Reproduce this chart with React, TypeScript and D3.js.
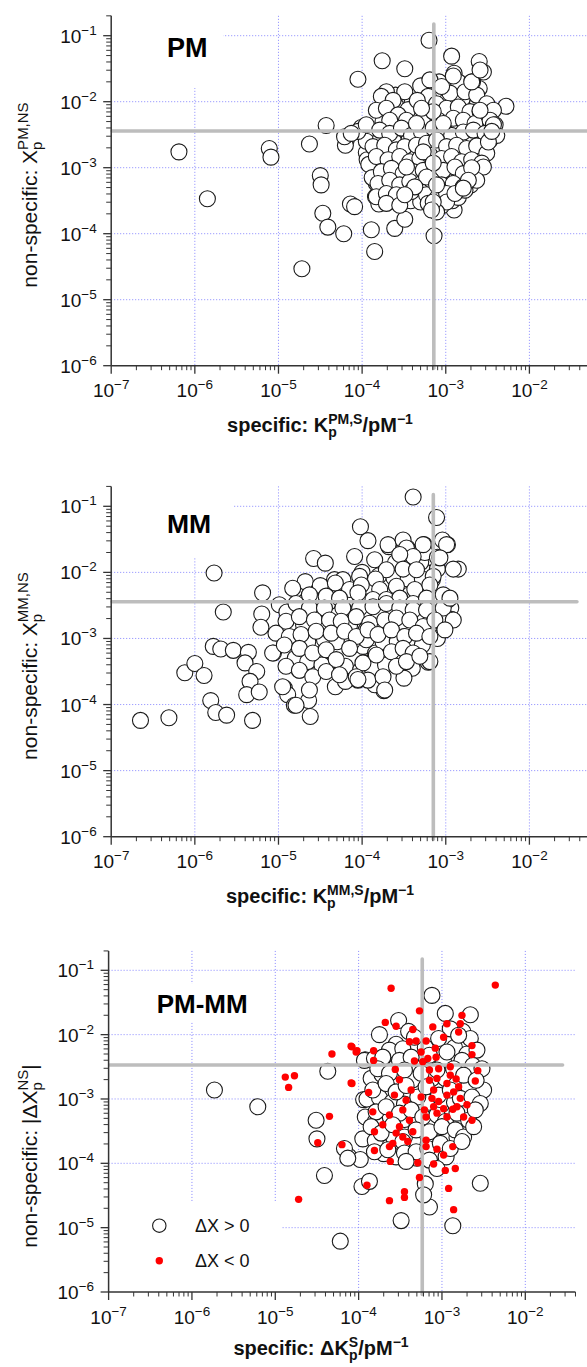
import React from "react";
import * as d3 from "d3";

const FONT = "'Liberation Sans', Arial, Helvetica, sans-serif";

// decades that carry labels and grid lines
const xDecades = [-7, -6, -5, -4, -3, -2];
const yDecades = [-6, -5, -4, -3, -2, -1];
const minorMantissas = [2, 3, 4, 5, 6, 7, 8, 9];

// Points are stored as decimal exponents: [log10 K, log10 X]
const pmPoints: [number, number][] = [
  [-6.19, -2.76], [-5.85, -3.47], [-5.11, -2.71], [-5.09, -2.84], [-4.72, -4.53], [-4.63, -2.64], [-4.5, -3.12], [-4.49, -3.26],
  [-4.47, -3.69], [-4.41, -3.9], [-4.43, -2.36], [-4.22, -4.0], [-4.19, -2.58], [-4.2, -2.66], [-4.14, -3.55], [-4.09, -3.59],
  [-4.05, -1.66], [-4.01, -2.39], [-3.95, -2.77], [-3.94, -2.88], [-3.89, -3.94], [-3.85, -4.27], [-3.76, -1.38], [-3.49, -1.5],
  [-3.61, -3.92], [-3.49, -3.78], [-3.2, -1.07], [-3.14, -4.03], [-2.28, -2.07], [-2.6, -1.39], [-2.93, -1.31], [-2.9, -3.64],
  [-3.42, -3.36], [-3.76, -3.08], [-3.83, -3.24], [-3.84, -3.44],
  [-3.6, -2.05], [-3.4, -2.0], [-3.2, -2.0], [-2.98, -1.98], [-2.8, -1.95], [-2.62, -2.02],
  [-3.75, -2.3], [-3.55, -2.33], [-3.38, -2.22], [-3.18, -2.35], [-2.98, -2.4], [-2.84, -2.38], [-2.7, -2.3], [-2.55, -2.38],
  [-3.95, -2.6], [-3.78, -2.56], [-3.62, -2.6], [-3.44, -2.58], [-3.3, -2.55], [-3.17, -2.5], [-3.05, -2.62], [-2.9, -2.58],
  [-2.72, -2.56], [-2.58, -2.62], [-3.92, -2.95], [-3.75, -2.78], [-3.62, -2.95], [-3.5, -2.8], [-3.37, -2.75], [-3.24, -2.92],
  [-3.1, -2.75], [-2.98, -2.9], [-2.86, -2.78], [-2.7, -2.8], [-2.6, -2.84], [-3.88, -3.15], [-3.7, -3.1], [-3.58, -3.18],
  [-3.45, -3.13], [-3.33, -3.15], [-3.2, -3.0], [-3.08, -3.16], [-2.95, -3.12], [-2.85, -3.18], [-2.72, -3.1],
  [-3.75, -3.32], [-3.62, -3.3], [-3.5, -3.3], [-3.36, -3.44], [-3.28, -3.33], [-3.15, -3.38], [-3.02, -3.32], [-2.88, -3.3],
  [-2.7, -3.26], [-3.8, -3.55], [-3.64, -3.5], [-3.42, -3.5], [-3.3, -3.52], [-3.05, -3.58], [-2.92, -3.5], [-2.85, -3.45],
  [-3.6, -1.9], [-3.25, -1.85], [-3.0, -1.78], [-2.75, -1.75], [-2.6, -1.8], [-4.05, -2.45], [-3.95, -2.35],
  [-2.9, -1.57], [-2.55, -1.55], [-2.68, -1.7], [-2.71, -1.82], [-2.85, -1.7], [-3.3, -1.76], [-3.08, -1.7], [-3.49, -1.85],
  [-3.71, -1.85], [-3.77, -1.92], [-3.63, -1.98], [-3.21, -1.92], [-2.95, -1.87], [-2.77, -1.85], [-2.63, -1.9], [-2.51, -2.03],
  [-3.45, -2.12], [-3.34, -1.98], [-3.11, -2.03], [-2.99, -2.1], [-2.85, -2.08], [-2.71, -2.15], [-2.59, -2.15], [-2.43, -2.13],
  [-3.83, -2.13], [-3.71, -2.1], [-3.57, -2.2], [-3.67, -2.28], [-3.47, -2.28], [-3.23, -2.25], [-3.09, -2.28], [-2.91, -2.25],
  [-2.79, -2.28], [-2.65, -2.33], [-2.47, -2.28], [-2.41, -2.35], [-4.21, -2.53], [-4.13, -2.48], [-3.79, -2.43], [-3.67, -2.48],
  [-3.53, -2.4], [-3.41, -2.51], [-3.29, -2.46], [-3.15, -2.4], [-3.03, -2.48], [-2.93, -2.51], [-2.79, -2.46], [-2.67, -2.43],
  [-2.53, -2.48], [-2.47, -2.58], [-2.39, -2.51], [-3.87, -2.68], [-3.73, -2.66], [-3.59, -2.73], [-3.49, -2.68], [-3.35, -2.66],
  [-3.23, -2.63], [-3.11, -2.58], [-2.99, -2.68], [-2.87, -2.66], [-2.75, -2.71], [-2.63, -2.67], [-2.51, -2.78], [-3.83, -2.83],
  [-3.69, -2.88], [-3.55, -2.83], [-3.43, -2.91], [-3.31, -2.86], [-3.19, -2.81], [-3.05, -2.86], [-2.93, -2.83], [-2.81, -2.91],
  [-2.69, -2.88], [-2.57, -2.93], [-3.77, -3.06], [-3.65, -3.01], [-3.51, -3.09], [-3.39, -3.06], [-3.27, -3.04], [-3.15, -3.09],
  [-3.03, -3.04], [-2.89, -2.99], [-2.79, -3.09], [-2.65, -3.11], [-2.55, -2.99], [-3.81, -3.24], [-3.67, -3.19], [-3.55, -3.26],
  [-3.43, -3.21], [-3.29, -3.24], [-3.17, -3.19], [-3.05, -3.26], [-2.91, -3.24], [-2.79, -3.29], [-2.63, -3.19], [-3.83, -3.44],
  [-3.71, -3.39], [-3.59, -3.41], [-3.41, -3.36], [-3.23, -3.41], [-3.11, -3.47], [-2.99, -3.39], [-2.77, -3.34], [-3.71, -3.54],
  [-3.55, -3.57], [-3.11, -3.57], [-2.99, -3.52],
  [-3.19, -1.67], [-3.05, -1.77], [-3.15, -2.15], [-3.29, -2.1], [-3.03, -2.33], [-3.35, -2.33], [-3.27, -2.76], [-3.15, -2.93],
  [-3.47, -2.99], [-3.23, -3.14], [-3.11, -3.26], [-3.37, -3.29], [-3.49, -3.41], [-2.89, -3.39], [-3.21, -3.54], [-3.11, -3.67],
  [-2.69, -3.0], [-2.73, -3.19], [-2.79, -3.31], [-2.49, -2.61], [-2.43, -2.35], [-2.45, -2.45], [-2.59, -2.13], [-2.69, -1.7],
  [-2.91, -1.61], [-2.59, -1.52], [-3.15, -3.52], [-3.17, -3.64],
];

const mmPoints: [number, number][] = [
  [-6.65, -4.24], [-6.31, -4.2], [-6.12, -3.52], [-6.0, -3.38], [-5.89, -3.56], [-5.81, -3.94], [-5.75, -4.12], [-5.62, -4.16],
  [-5.77, -2.01], [-5.66, -2.6], [-5.78, -3.12], [-5.69, -3.16], [-5.54, -3.18], [-5.36, -3.21], [-5.4, -3.37], [-5.26, -3.5],
  [-5.34, -3.65], [-5.38, -3.85], [-5.23, -3.81], [-5.31, -4.24], [-5.19, -2.31], [-5.2, -2.63], [-5.21, -2.83], [-5.06, -3.22],
  [-4.93, -3.75], [-4.89, -3.85], [-4.81, -4.01], [-4.64, -3.94], [-4.62, -4.18], [-4.99, -2.49], [-4.8, -2.26], [-4.68, -2.14],
  [-4.58, -1.79], [-4.44, -1.86], [-4.76, -2.97], [-4.62, -2.82], [-4.55, -3.1], [-4.51, -3.32], [-4.75, -3.48], [-4.67, -2.52],
  [-4.43, -2.57], [-4.35, -2.31], [-4.33, -2.11], [-4.23, -2.29], [-4.09, -1.76], [-4.02, -1.31], [-3.93, -1.52], [-4.31, -3.35],
  [-4.32, -3.73], [-4.27, -2.82], [-4.13, -2.54], [-4.05, -3.63], [-3.97, -3.37], [-3.99, -3.12], [-3.95, -2.87], [-3.84, -3.22],
  [-3.76, -3.58], [-3.74, -3.79], [-3.64, -3.2], [-3.5, -2.97], [-3.4, -2.57], [-3.52, -1.96], [-3.38, -2.26], [-3.54, -1.78],
  [-3.68, -1.61], [-3.46, -1.63], [-3.26, -1.58], [-3.39, -0.86], [-3.11, -1.17], [-2.98, -1.58], [-3.04, -1.51], [-3.16, -1.78],
  [-2.85, -1.95], [-2.94, -2.54], [-2.93, -2.71], [-3.02, -2.86], [-3.21, -3.36], [-3.16, -2.11], [-3.26, -2.57],
  [-4.9, -2.6], [-4.7, -2.8], [-4.5, -2.62], [-4.3, -2.65], [-4.15, -2.8], [-3.98, -2.62], [-3.8, -2.62], [-3.63, -2.6],
  [-3.47, -2.62], [-3.3, -2.68], [-3.15, -2.62], [-3.0, -2.68], [-4.85, -3.02], [-4.65, -3.05], [-4.45, -3.02], [-4.3, -3.05],
  [-4.12, -3.05], [-3.95, -3.02], [-3.75, -3.05], [-3.58, -3.05], [-3.42, -3.05], [-3.28, -3.1], [-3.1, -3.0], [-4.8, -3.3],
  [-4.65, -3.35], [-4.48, -3.4], [-4.2, -3.42], [-4.02, -3.48], [-3.88, -3.45], [-3.72, -3.4], [-3.55, -3.3], [-3.4, -3.45],
  [-4.4, -2.45], [-4.2, -2.45], [-3.95, -2.45], [-3.78, -2.35], [-3.62, -2.32], [-3.45, -2.35], [-3.3, -2.38], [-3.12, -2.45],
  [-2.98, -2.42], [-4.0, -2.0], [-3.8, -2.05], [-3.62, -2.08], [-3.45, -2.1], [-3.28, -2.1], [-3.1, -1.95], [-3.6, -1.85],
  [-3.3, -1.85], [-3.25, -1.7], [-4.5, -2.2], [-4.25, -2.2], [-3.5, -3.6], [-3.85, -3.7], [-4.2, -3.65],
  [-3.69, -1.58], [-3.51, -1.51], [-3.47, -1.63], [-3.27, -1.58], [-2.99, -1.58], [-3.1, -1.77], [-3.39, -1.76], [-3.55, -1.73],
  [-3.85, -1.81], [-3.71, -1.96], [-3.51, -1.95], [-3.35, -1.96], [-3.15, -2.06], [-2.91, -1.95], [-3.84, -2.1], [-4.03, -2.06],
  [-4.23, -2.11], [-4.32, -2.16], [-4.15, -2.26], [-4.01, -2.19], [-3.79, -2.26], [-3.59, -2.21], [-3.37, -2.26], [-3.19, -2.19],
  [-3.03, -2.34], [-4.83, -2.24], [-4.63, -2.34], [-4.43, -2.36], [-4.27, -2.39], [-4.05, -2.31], [-3.87, -2.41], [-3.71, -2.41],
  [-3.55, -2.39], [-3.39, -2.47], [-3.23, -2.39], [-4.79, -2.47], [-4.63, -2.54], [-4.45, -2.54], [-4.23, -2.54], [-4.03, -2.54],
  [-3.87, -2.52], [-3.71, -2.47], [-3.55, -2.54], [-3.39, -2.57], [-3.23, -2.57], [-3.03, -2.54], [-4.91, -2.74], [-4.75, -2.67],
  [-4.57, -2.72], [-4.39, -2.72], [-4.25, -2.74], [-4.07, -2.67], [-3.91, -2.77], [-3.73, -2.72], [-3.59, -2.69], [-3.43, -2.72],
  [-3.27, -2.82], [-3.13, -2.72], [-2.91, -2.72], [-5.03, -2.92], [-4.87, -2.97], [-4.73, -2.94], [-4.55, -2.89], [-4.37, -2.92],
  [-4.21, -2.89], [-4.07, -2.97], [-3.93, -2.87], [-3.81, -2.94], [-3.65, -2.87], [-3.49, -2.97], [-3.35, -2.92], [-3.19, -2.97],
  [-3.01, -2.87], [-5.07, -3.22], [-4.93, -3.1], [-4.75, -3.15], [-4.59, -3.22], [-4.43, -3.17], [-4.31, -3.32], [-4.15, -3.15],
  [-3.99, -3.37], [-3.83, -3.25], [-3.65, -3.2], [-3.51, -3.15], [-3.39, -3.22], [-3.19, -3.35], [-4.91, -3.42], [-4.75, -3.48],
  [-4.59, -3.58], [-4.43, -3.5], [-4.27, -3.55], [-4.07, -3.58], [-3.93, -3.63], [-3.75, -3.58], [-3.59, -3.42], [-3.47, -3.35],
  [-3.31, -3.27], [-4.05, -3.62], [-3.73, -3.78], [-4.63, -3.78], [-4.79, -4.01], [-4.95, -3.73], [-2.95, -2.39], [-3.07, -1.78],
];

const diffPositive: [number, number][] = [
  [-5.73, -2.86], [-5.21, -3.12], [-4.51, -3.33], [-4.5, -3.62], [-4.41, -4.19], [-4.22, -5.21], [-4.12, -3.89], [-3.98, -3.94],
  [-3.96, -4.36], [-3.87, -4.28], [-3.49, -4.89], [-3.15, -4.68], [-2.87, -4.97], [-2.54, -4.31], [-3.2, -4.32], [-3.12, -1.39],
  [-3.75, -2.0], [-3.52, -1.78], [-2.96, -1.67], [-2.66, -1.69], [-4.37, -2.57], [-3.92, -2.39], [-3.94, -3.01], [-2.5, -2.86],
  [-3.7, -2.45], [-3.55, -2.5], [-3.35, -2.48], [-3.15, -2.45], [-2.98, -2.42], [-2.8, -2.5], [-2.68, -2.55],
  [-3.85, -2.68], [-3.72, -2.62], [-3.5, -2.68], [-3.35, -2.7], [-3.12, -2.68], [-2.96, -2.68], [-2.82, -2.76], [-2.68, -2.8],
  [-3.9, -3.0], [-3.75, -2.98], [-3.6, -3.05], [-3.45, -3.08], [-3.3, -3.1], [-3.15, -3.05], [-3.0, -3.08], [-2.85, -3.05],
  [-2.7, -3.2], [-3.92, -3.28], [-3.8, -3.35], [-3.62, -3.28], [-3.45, -3.32], [-3.3, -3.38], [-3.12, -3.35], [-2.92, -3.5],
  [-2.78, -3.4], [-3.95, -3.62], [-3.8, -3.65], [-3.58, -3.6], [-3.35, -3.65], [-3.12, -3.62], [-2.96, -3.6], [-2.82, -3.6],
  [-3.55, -2.15], [-3.2, -2.2], [-2.85, -2.2], [-2.7, -2.3], [-3.4, -1.95], [-2.75, -1.95], [-3.7, -3.85], [-3.55, -3.9],
  [-3.3, -3.92], [-2.95, -3.9],
  [-2.9, -1.91], [-2.66, -2.06], [-2.8, -2.01], [-2.58, -2.24], [-3.04, -2.06], [-3.33, -2.04], [-3.63, -2.24], [-3.47, -2.22],
  [-3.93, -2.4], [-3.81, -2.37], [-3.71, -2.35], [-3.51, -2.4], [-3.37, -2.35], [-3.15, -2.32], [-2.94, -2.27], [-2.76, -2.4],
  [-2.63, -2.48], [-2.52, -2.53], [-3.77, -2.53], [-3.63, -2.6], [-3.45, -2.55], [-3.25, -2.6], [-3.06, -2.55], [-2.86, -2.53],
  [-2.74, -2.63], [-2.59, -2.71], [-3.83, -2.86], [-3.67, -2.76], [-3.55, -2.89], [-3.43, -2.79], [-3.29, -2.97], [-3.19, -2.81],
  [-3.04, -2.94], [-2.9, -2.86], [-2.78, -2.99], [-2.64, -2.97], [-2.54, -3.07], [-3.79, -3.2], [-3.67, -3.12], [-3.51, -3.22],
  [-3.37, -3.17], [-3.23, -3.28], [-3.06, -3.25], [-2.96, -3.35], [-2.82, -3.22], [-2.68, -3.33], [-2.6, -3.17], [-3.85, -3.43],
  [-3.73, -3.53], [-3.59, -3.4], [-3.45, -3.59], [-3.31, -3.48], [-3.15, -3.51], [-3.0, -3.43], [-2.84, -3.48], [-2.74, -3.59],
  [-2.62, -3.43], [-4.17, -3.77], [-4.13, -3.92], [-3.81, -3.82], [-3.65, -3.79], [-3.47, -3.66], [-3.45, -3.84], [-3.31, -3.82],
  [-3.17, -3.77], [-3.02, -3.69], [-2.9, -3.77], [-2.76, -3.66], [-3.43, -3.97], [-3.15, -3.95], [-3.06, -4.08], [-3.22, -4.49],
];

const diffNegative: [number, number][] = [
  [-4.88, -2.66], [-4.77, -2.64], [-4.84, -2.82], [-4.72, -4.56], [-4.35, -3.27], [-4.32, -2.3], [-4.49, -3.68], [-4.2, -3.71],
  [-4.08, -2.19], [-4.02, -2.25], [-4.08, -2.76], [-3.9, -4.34], [-3.61, -1.28], [-2.36, -1.23],
  [-3.27, -1.63], [-2.76, -1.7], [-3.68, -1.81], [-3.55, -1.87], [-3.35, -1.92], [-3.19, -2.1], [-3.31, -2.1], [-3.11, -1.88],
  [-2.94, -1.83], [-2.78, -1.83], [-2.8, -1.96], [-2.98, -2.04], [-2.64, -2.17], [-2.64, -2.31], [-3.08, -2.21], [-3.07, -2.35],
  [-3.17, -2.37], [-3.25, -2.27], [-3.39, -2.11], [-3.82, -2.25], [-4.03, -2.27], [-4.09, -2.18], [-3.82, -2.4], [-3.56, -2.54],
  [-3.33, -2.41], [-3.23, -2.42], [-3.15, -2.55], [-3.04, -2.53], [-2.9, -2.5], [-2.57, -2.56], [-2.6, -2.72], [-2.83, -2.69],
  [-2.9, -2.63], [-2.8, -2.81], [-2.94, -2.76], [-3.06, -2.68], [-3.15, -2.71], [-3.51, -2.7], [-3.57, -2.94], [-3.37, -2.86],
  [-3.43, -3.02], [-3.25, -2.97], [-3.1, -2.86], [-3.12, -2.99], [-3.04, -3.04], [-2.94, -2.94], [-2.86, -2.89], [-2.78, -2.99],
  [-2.7, -3.09], [-2.82, -3.12], [-2.98, -3.15], [-3.1, -3.12], [-3.21, -3.17], [-3.06, -3.22], [-2.94, -3.28], [-2.87, -3.16],
  [-2.74, -3.28], [-2.64, -3.33], [-3.88, -2.9], [-4.09, -2.75], [-3.83, -3.2], [-3.71, -3.4], [-3.63, -3.25], [-3.47, -3.17],
  [-3.39, -3.33], [-3.35, -3.51], [-3.19, -3.28], [-3.51, -3.43], [-3.55, -3.53], [-3.47, -3.59], [-3.59, -3.69], [-3.81, -3.51],
  [-3.81, -3.8], [-3.63, -3.74], [-3.41, -3.66], [-3.19, -3.64], [-3.19, -3.74], [-3.06, -3.78], [-2.98, -3.87], [-2.87, -3.74],
  [-3.62, -3.97], [-3.29, -3.99], [-3.1, -4.01], [-2.96, -4.11], [-2.84, -4.08], [-3.27, -4.22], [-3.45, -4.44], [-3.45, -4.53],
  [-3.63, -4.58], [-2.92, -4.39], [-2.86, -4.72],
];

// threshold (gray) lines
const pmThresholdK = 7.2e-4;
const pmThresholdX = 3.6e-3;
const mmThresholdK = 7.1e-4;
const mmThresholdX = 3.6e-3;
const diffThresholdK = 5.8e-4;
const diffThresholdX = 3.37e-3;

const panelNames = ["PM", "MM", "PM-MM"];
const legendLabels = ["ΔX > 0", "ΔX < 0"];

const GRID = "#7a7aff";
const AXIS = "#333";
const GRAY = "#bdbdbd";

function Panel(props: any) {
  const { L, pts, neg, tK, tX, name, yTitle, xTitle, legend } = props;
  const x = d3.scaleLog().domain([1e-7, 1e-2]).range([L.x7, L.x2]);
  const y = d3.scaleLog().domain([1e-6, 1e-1]).range([L.y6, L.y1]);
  const xl = x(1e-7);
  const xr = x(L.xMax);
  const yb = y(1e-6);
  const yt = y(L.yMax);

  const minorX: number[] = [];
  for (let e = -7; e <= -1; e++)
    for (const m of minorMantissas) {
      const v = m * Math.pow(10, e);
      if (v <= L.xMax * 1.0001) minorX.push(v);
    }
  const minorY: number[] = [];
  for (let e = -6; e <= -1; e++)
    for (const m of minorMantissas) {
      const v = m * Math.pow(10, e);
      if (v <= L.yMax * 1.0001) minorY.push(v);
    }

  const toV = (d: [number, number]) => [Math.pow(10, d[0]), Math.pow(10, d[1])];

  return (
    <g fontFamily={FONT}>
      {xDecades.slice(1).map((e) => (
        <line key={"gx" + e} x1={x(Math.pow(10, e))} x2={x(Math.pow(10, e))} y1={yt} y2={yb}
          stroke={GRID} strokeWidth={0.9} strokeDasharray="1 2" />
      ))}
      {yDecades.slice(1).map((e) => (
        <line key={"gy" + e} x1={xl} x2={Math.min(xr, 600)} y1={y(Math.pow(10, e))} y2={y(Math.pow(10, e))}
          stroke={GRID} strokeWidth={0.9} strokeDasharray="1 2" />
      ))}
      <rect x={L.box[0]} y={L.box[1]} width={L.box[2]} height={L.box[3]} fill="#fff" />
      {L.legendBox && (
        <rect x={L.legendBox[0]} y={L.legendBox[1]} width={L.legendBox[2]} height={L.legendBox[3]} fill="#fff" />
      )}
      {pts.map((d: [number, number], i: number) => {
        const [vx, vy] = toV(d);
        return <circle key={"p" + i} cx={x(vx)} cy={y(vy)} r={8} fill="#fff" stroke="#1a1a1a" strokeWidth={1.1} />;
      })}
      <line x1={x(tK)} x2={x(tK)} y1={y(0.15)} y2={yb + 2.5} stroke={GRAY} strokeWidth={3.6} strokeLinecap="round" />
      <line x1={xl + 1} x2={x(L.hEnd)} y1={y(tX)} y2={y(tX)} stroke={GRAY} strokeWidth={3.6} strokeLinecap="round" />
      {neg &&
        neg.map((d: [number, number], i: number) => {
          const [vx, vy] = toV(d);
          return <circle key={"n" + i} cx={x(vx)} cy={y(vy)} r={3.7} fill="#f00" />;
        })}
      <line x1={xl} x2={xr} y1={yb} y2={yb} stroke={AXIS} strokeWidth={1.5} />
      <line x1={xl} x2={xl} y1={yt} y2={yb} stroke={AXIS} strokeWidth={1.5} />
      {minorX.map((v, i) => (
        <line key={"mx" + i} x1={x(v)} x2={x(v)} y1={yb} y2={yb + 4.5} stroke={AXIS} strokeWidth={1} />
      ))}
      {xDecades.map((e) => (
        <line key={"tx" + e} x1={x(Math.pow(10, e))} x2={x(Math.pow(10, e))} y1={yb} y2={yb + 8} stroke={AXIS} strokeWidth={1.3} />
      ))}
      {minorY.map((v, i) => (
        <line key={"my" + i} x1={xl - 5} x2={xl} y1={y(v)} y2={y(v)} stroke={AXIS} strokeWidth={1} />
      ))}
      {yDecades.map((e) => (
        <line key={"ty" + e} x1={xl - 8} x2={xl} y1={y(Math.pow(10, e))} y2={y(Math.pow(10, e))} stroke={AXIS} strokeWidth={1.3} />
      ))}
      {xDecades.map((e) => (
        <text key={"lx" + e} x={x(Math.pow(10, e))} y={yb + 31.5} textAnchor="middle" fontSize={19} fill="#111">
          10<tspan dy={-8} fontSize={13.5}>{"\u2212" + Math.abs(e)}</tspan>
        </text>
      ))}
      {yDecades.map((e) => (
        <text key={"ly" + e} x={xl - 14.5} y={y(Math.pow(10, e)) + 7} textAnchor="end" fontSize={19} fill="#111">
          10<tspan dy={-8} fontSize={13.5}>{"\u2212" + Math.abs(e)}</tspan>
        </text>
      ))}
      <text x={L.labelX} y={L.labelY} fontSize={L.labelSize} fontWeight="bold" fill="#000">{name}</text>
      <text transform={`translate(37,${L.yTitleY}) rotate(-90)`} textAnchor="middle" fontSize={21} fill="#111">
        {yTitle}
      </text>
      <text x={L.xTitleX} y={L.xTitleY} textAnchor="middle" fontSize={20} fontWeight="bold" fill="#111">
        {xTitle}
      </text>
      {legend && (
        <g>
          <circle cx={L.legX} cy={L.legY1} r={6.7} fill="#fff" stroke="#1a1a1a" strokeWidth={1.1} />
          <text x={L.legTextX} y={L.legY1 + 6} fontSize={18} fill="#111">{legendLabels[0]}</text>
          <circle cx={L.legX} cy={L.legY2} r={3.7} fill="#f00" />
          <text x={L.legTextX} y={L.legY2 + 6} fontSize={18} fill="#111">{legendLabels[1]}</text>
        </g>
      )}
    </g>
  );
}

function yTitleXp(sup: string) {
  return (
    <>
      non-specific: X<tspan dy={5} fontSize={15}>p</tspan>
      <tspan dx={-8.3} dy={-14} fontSize={15}>{sup}</tspan>
    </>
  );
}

function xTitleK(prefix: string, sup: string) {
  return (
    <>
      {"specific: " + prefix}K<tspan dy={5} fontSize={14}>p</tspan>
      <tspan dx={-8.6} dy={-13} fontSize={14}>{sup}</tspan>
      <tspan dy={8} fontSize={20}>/pM</tspan>
      <tspan dy={-8} fontSize={14}>{"\u22121"}</tspan>
    </>
  );
}

const layouts = [
  {
    x7: 111.2, x2: 529.4, y6: 365.7, y1: 35.7, xMax: 0.1, yMax: 0.2, hEnd: 0.12,
    box: [111.5, 15, 111.5, 73], labelX: 167, labelY: 56.5, labelSize: 27,
    yTitleY: 195, xTitleX: 320, xTitleY: 432,
  },
  {
    x7: 111.2, x2: 529.4, y6: 836.7, y1: 506.3, xMax: 0.1, yMax: 0.2, hEnd: 0.037,
    box: [111.5, 486, 121.5, 72], labelX: 167, labelY: 533.3, labelSize: 26.5,
    yTitleY: 666, xTitleX: 320, xTitleY: 903,
  },
  {
    x7: 108.6, x2: 525.3, y6: 1292, y1: 970.3, xMax: 0.04, yMax: 0.2, hEnd: 0.028,
    box: [150, 984, 104, 38], legendBox: [109.5, 1201, 171.5, 90], labelX: 156.7, labelY: 1013.3, labelSize: 26,
    yTitleY: 1156, xTitleX: 321, xTitleY: 1355,
    legX: 159.3, legY1: 1225.7, legY2: 1260.7, legTextX: 195,
  },
];

export default function App() {
  return (
    <svg width={587} height={1367} viewBox="0 0 587 1367"
      style={{ position: "absolute", left: 0, top: 0, background: "#fff" }}>
      <rect x={0} y={0} width={587} height={1367} fill="#fff" />
      <Panel L={layouts[0]} pts={pmPoints} tK={pmThresholdK} tX={pmThresholdX} name={panelNames[0]}
        yTitle={yTitleXp("PM,NS")} xTitle={xTitleK("", "PM,S")} />
      <Panel L={layouts[1]} pts={mmPoints} tK={mmThresholdK} tX={mmThresholdX} name={panelNames[1]}
        yTitle={yTitleXp("MM,NS")} xTitle={xTitleK("", "MM,S")} />
      <Panel L={layouts[2]} pts={diffPositive} neg={diffNegative} tK={diffThresholdK} tX={diffThresholdX}
        name={panelNames[2]} legend
        yTitle={
          <>
            non-specific: |ΔX<tspan dy={5} fontSize={15}>p</tspan>
            <tspan dx={-8.3} dy={-14} fontSize={15}>NS</tspan>
            <tspan dy={9} fontSize={21}>|</tspan>
          </>
        }
        xTitle={xTitleK("Δ", "S")} />
    </svg>
  );
}
